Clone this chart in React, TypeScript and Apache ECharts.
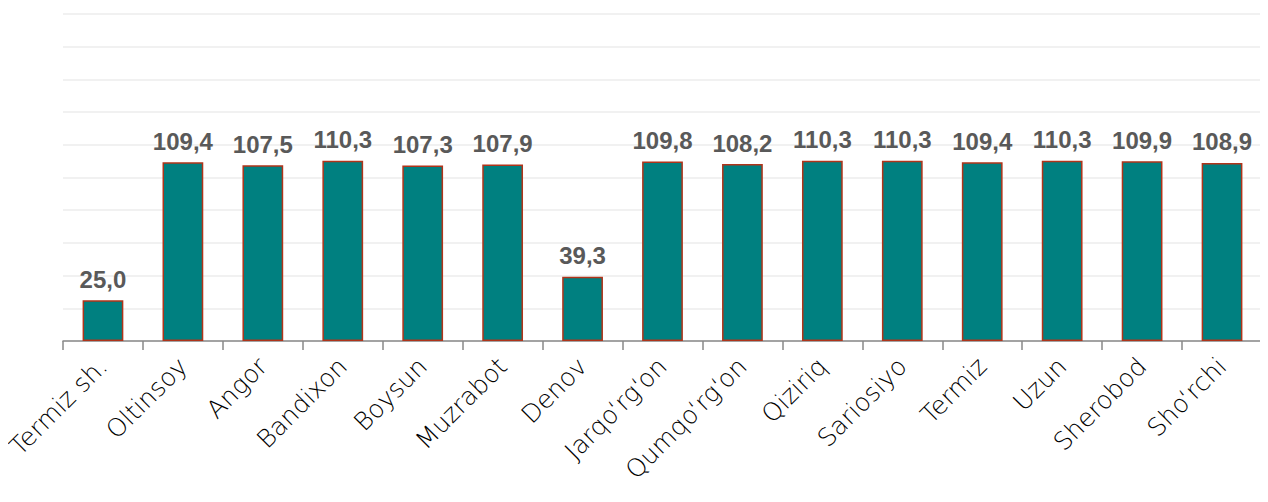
import React, { useEffect, useRef } from "react";
import * as echarts from "echarts";

const categories = [
  "Termiz sh.", "Oltinsoy", "Angor", "Bandixon", "Boysun", "Muzrabot", "Denov",
  "Jarqo\u2018rg\u2018on", "Qumqo\u2018rg\u2018on", "Qiziriq", "Sariosiyo", "Termiz", "Uzun",
  "Sherobod", "Sho\u2018rchi",
];
const values = [25.0, 109.4, 107.5, 110.3, 107.3, 107.9, 39.3, 109.8, 108.2, 110.3, 110.3, 109.4, 110.3, 109.9, 108.9];
const yMin = 0;
const yMax = 200;
const yInterval = 20;

export default function App() {
  const ref = useRef<HTMLDivElement>(null);
  useEffect(() => {
    if (!ref.current) return;
    const chart = echarts.init(ref.current, undefined, { renderer: "svg" });
    chart.setOption({
      animation: false,
      grid: { left: 63, right: 6, top: 14, bottom: 161, containLabel: false },
      xAxis: {
        type: "category",
        data: categories,
        axisLine: { lineStyle: { color: "#898989", width: 1.5 } },
        axisTick: { show: true, length: 9, alignWithLabel: false, lineStyle: { color: "#898989", width: 1.5 } },
        axisLabel: {
          rotate: 45,
          interval: 0,
          color: "#000000",
          fontFamily: "DejaVu Sans",
          fontWeight: 200,
          fontSize: 25,
          margin: 21,
        },
      },
      yAxis: {
        type: "value",
        min: yMin,
        max: yMax,
        interval: yInterval,
        axisLabel: { show: false },
        axisLine: { show: false },
        axisTick: { show: false },
        splitLine: { lineStyle: { color: "#ececec", width: 1.5 } },
      },
      series: [
        {
          type: "bar",
          data: values,
          barWidth: "51%",
          itemStyle: { color: "#008080", borderColor: "#b0341a", borderWidth: 1.5 },
          label: {
            show: true,
            position: "top",
            distance: 9,
            color: "#595959",
            fontFamily: "'Liberation Sans', Arial, sans-serif",
            fontWeight: "bold",
            fontSize: 24,
            formatter: (p: any) => p.value.toFixed(1).replace(".", ","),
          },
        },
      ],
    });
    return () => chart.dispose();
  }, []);
  return <div ref={ref} style={{ width: 1268, height: 502, margin: -8 }} />;
}
